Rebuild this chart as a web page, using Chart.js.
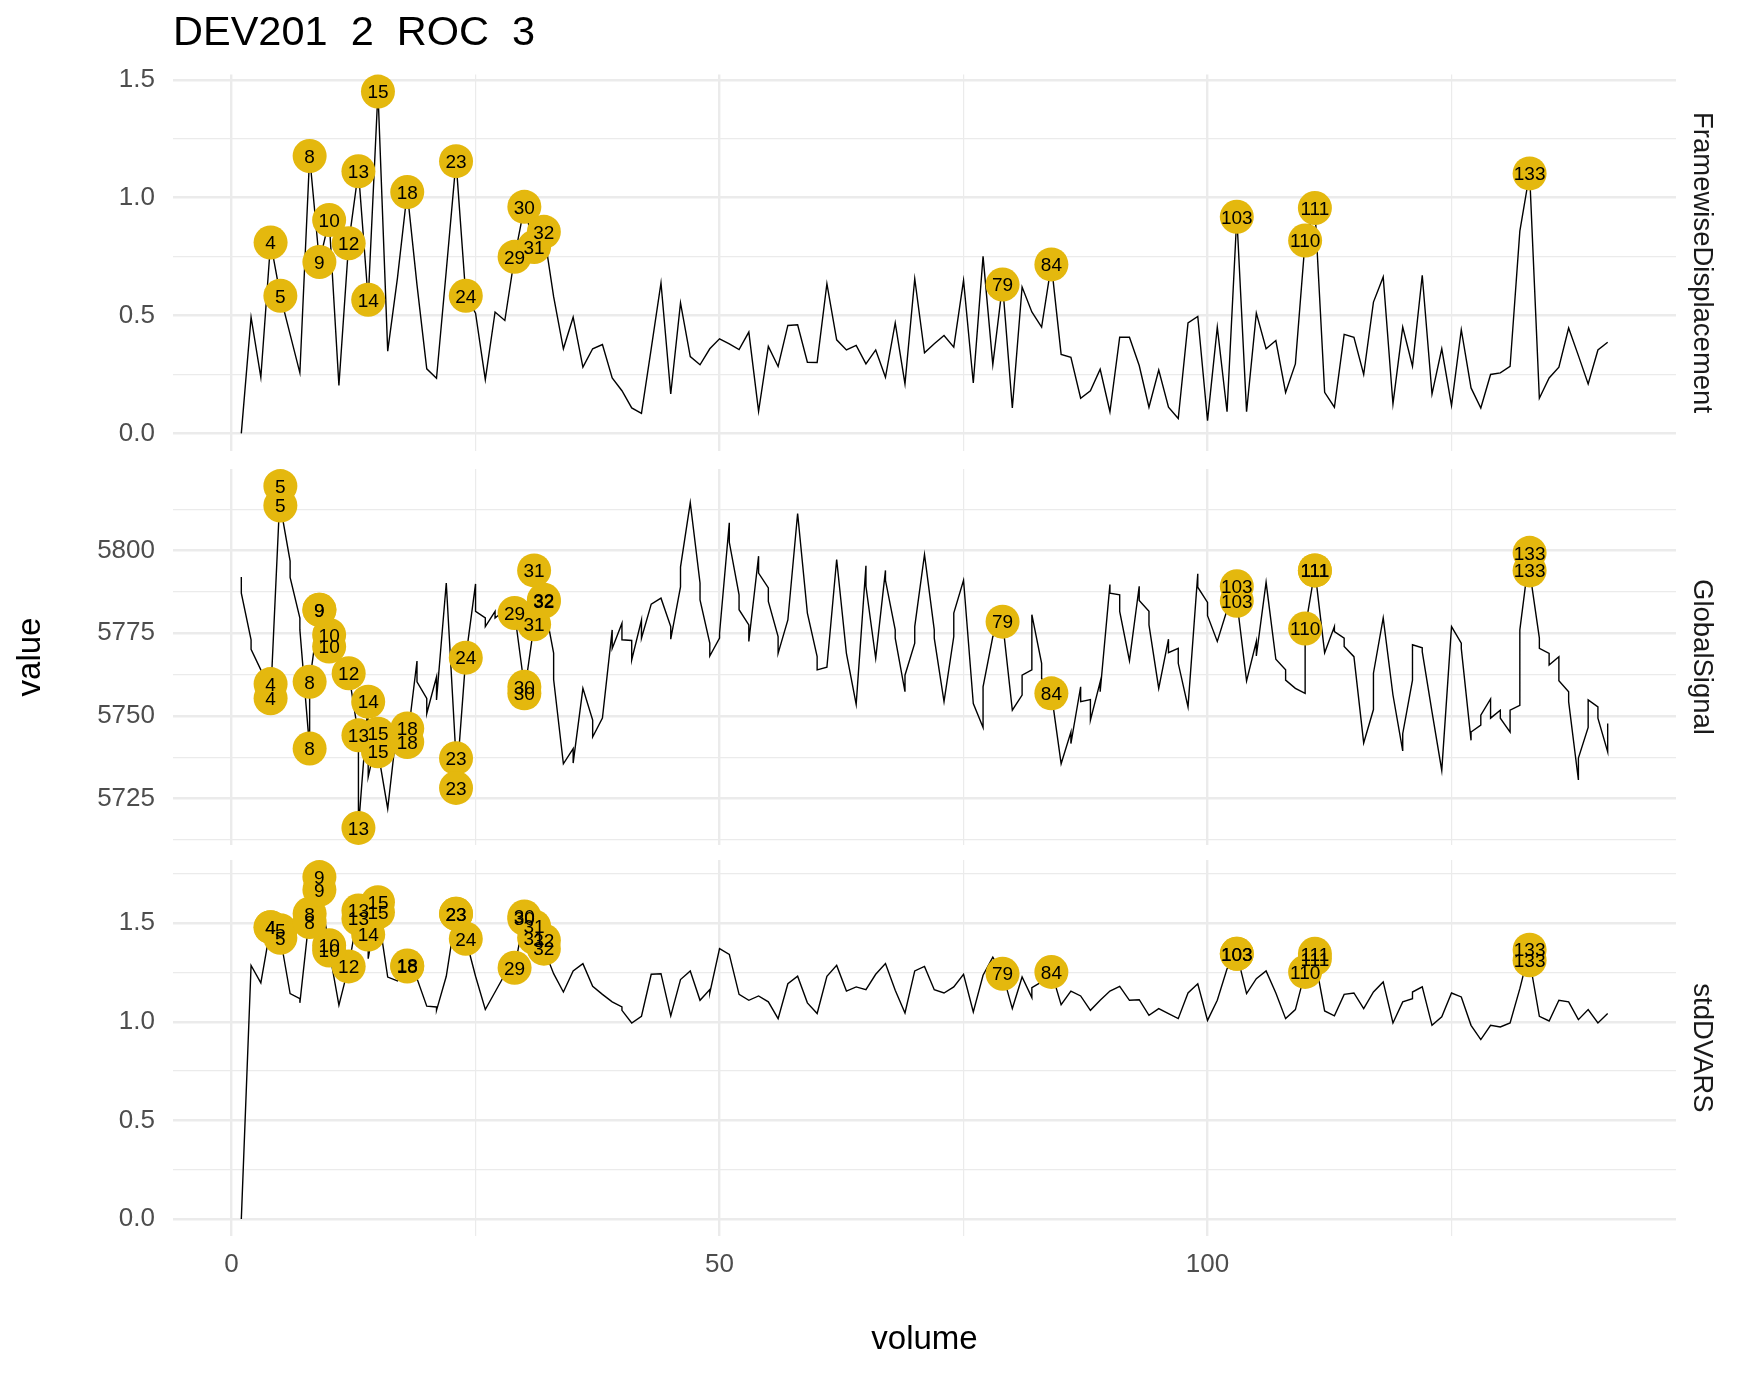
<!DOCTYPE html>
<html><head><meta charset="utf-8">
<script src="https://cdn.jsdelivr.net/npm/chart.js@4.4.1/dist/chart.umd.min.js"></script>
<style>
html,body{margin:0;padding:0;background:#fff;}
#wrap{position:relative;width:1750px;height:1375px;overflow:hidden;background:#fff;}
canvas{position:absolute;left:0;}
</style></head><body>
<div id="wrap">
<canvas id="c1" width="1750" height="460" style="top:0px"></canvas>
<canvas id="c2" width="1750" height="393" style="top:460px"></canvas>
<canvas id="c3" width="1750" height="522" style="top:853px"></canvas>
</div>
<script>
// ---------------- data ----------------
const titleText = 'DEV201  2  ROC  3';
const panelNames = ['FramewiseDisplacement', 'GlobalSignal', 'stdDVARS'];

const fd = [0.0,0.493,0.238,0.81,0.584,0.42,0.257,1.177,0.727,0.905,
0.203,0.807,1.112,0.567,1.45,0.349,0.66,1.024,0.63,0.274,
0.234,0.69,1.155,0.584,0.51,0.228,0.515,0.479,0.749,0.961,
0.791,0.855,0.58,0.359,0.493,0.281,0.359,0.377,0.235,0.181,
0.108,0.085,0.36,0.638,0.167,0.554,0.326,0.291,0.359,0.401,
0.38,0.356,0.43,0.094,0.369,0.284,0.458,0.461,0.302,0.301,
0.635,0.397,0.354,0.373,0.295,0.354,0.238,0.469,0.21,0.656,
0.342,0.38,0.415,0.366,0.649,0.214,0.751,0.292,0.632,0.108,
0.621,0.515,0.451,0.717,0.335,0.323,0.149,0.181,0.272,0.092,
0.408,0.408,0.288,0.111,0.269,0.111,0.063,0.469,0.496,0.054,
0.451,0.092,0.919,0.092,0.51,0.359,0.394,0.174,0.295,0.818,
0.956,0.174,0.111,0.42,0.408,0.25,0.557,0.664,0.125,0.451,
0.285,0.671,0.167,0.359,0.118,0.44,0.193,0.108,0.25,0.257,
0.284,0.858,1.103,0.149,0.235,0.281,0.447,0.33,0.21,0.354,
0.387];

const gsA = [5792.0,5773.0,5763.9,5759.6,5819.5,5796.8,5779.6,5740.1,5782.1,5774.5,
5767.0,5762.9,5744.1,5754.3,5744.6,5721.9,5748.0,5746.2,5766.6,5755.3,
5761.8,5790.2,5737.2,5767.6,5789.9,5779.6,5781.6,5782.0,5781.1,5758.8,
5777.7,5785.1,5769.0,5735.5,5740.1,5758.3,5748.7,5749.3,5776.0,5778.0,
5772.8,5779.0,5783.8,5785.6,5777.0,5789.0,5814.5,5790.2,5772.0,5773.5,
5808.4,5786.6,5777.5,5798.3,5788.7,5774.0,5779.0,5811.2,5781.1,5767.9,
5764.7,5797.3,5768.9,5753.5,5795.4,5767.4,5794.0,5776.0,5757.3,5772.0,
5798.8,5776.0,5754.3,5774.0,5791.0,5753.7,5746.5,5774.0,5778.5,5751.7,
5756.3,5763.9,5765.9,5756.8,5735.5,5745.1,5758.8,5754.9,5760.3,5789.7,
5786.6,5766.7,5789.2,5781.6,5758.3,5773.2,5770.4,5752.7,5793.0,5784.3,
5772.5,5782.0,5789.2,5760.6,5772.5,5790.4,5767.1,5763.9,5758.3,5756.8,
5794.0,5769.1,5777.0,5773.5,5767.9,5741.8,5751.9,5779.6,5756.3,5739.4,
5760.8,5770.6,5751.2,5733.5,5777.0,5772.0,5742.6,5747.2,5755.1,5751.7,
5745.1,5753.2,5799.3,5773.5,5768.9,5767.9,5757.3,5730.6,5746.5,5752.7,
5739.1];

const gsB = [5787.1,5770.1,5763.9,5755.3,5813.6,5791.9,5776.0,5760.3,5782.1,5771.0,
5767.0,5762.9,5716.1,5731.5,5739.3,5721.9,5748.0,5742.1,5760.3,5750.7,
5754.8,5790.2,5728.2,5767.6,5781.6,5777.0,5779.6,5782.0,5781.1,5756.8,
5794.0,5784.6,5761.0,5735.5,5735.7,5758.3,5743.6,5749.3,5770.4,5773.0,
5766.9,5773.5,5783.8,5785.6,5773.2,5795.0,5814.5,5785.1,5768.1,5775.0,
5802.5,5782.1,5772.5,5793.2,5784.6,5768.9,5779.0,5811.2,5781.1,5763.9,
5764.7,5797.3,5768.9,5753.5,5789.2,5767.4,5791.0,5773.5,5762.3,5777.0,
5798.8,5773.5,5754.3,5781.1,5791.0,5753.7,5758.8,5774.0,5778.5,5751.7,
5762.3,5780.6,5761.3,5756.8,5735.5,5741.6,5754.3,5748.7,5757.3,5787.1,
5781.6,5766.7,5784.9,5777.5,5758.3,5769.1,5765.9,5752.7,5788.9,5780.3,
5772.5,5782.0,5784.8,5760.6,5768.1,5790.4,5767.1,5760.8,5758.3,5776.4,
5794.0,5769.1,5775.5,5771.0,5767.9,5741.8,5762.9,5779.6,5756.3,5744.6,
5771.5,5769.4,5751.2,5733.5,5777.0,5770.4,5745.1,5750.2,5749.3,5749.3,
5751.7,5776.0,5794.0,5770.4,5765.4,5760.6,5754.3,5737.2,5754.8,5749.3,
5747.7];

const dvA = [0.0,1.286,1.197,1.48,1.464,1.143,1.117,1.548,1.734,1.388,
1.084,1.281,1.565,1.443,1.607,1.227,1.207,1.286,1.219,1.079,
1.075,1.231,1.548,1.421,1.231,1.062,1.151,1.24,1.274,1.534,
1.484,1.413,1.244,1.151,1.258,1.295,1.18,1.139,1.101,1.075,
0.994,1.028,1.241,1.244,1.03,1.214,1.258,1.109,1.163,1.371,
1.342,1.139,1.109,1.131,1.101,1.016,1.193,1.231,1.096,1.042,
1.231,1.286,1.156,1.177,1.163,1.241,1.295,1.16,1.045,1.258,
1.281,1.163,1.146,1.177,1.241,1.05,1.236,1.328,1.244,1.067,
1.227,1.123,1.202,1.253,1.087,1.156,1.131,1.058,1.109,1.156,
1.18,1.109,1.112,1.033,1.067,1.042,1.016,1.146,1.193,1.007,
1.109,1.269,1.345,1.143,1.219,1.258,1.146,1.016,1.062,1.253,
1.345,1.055,1.03,1.139,1.146,1.067,1.151,1.202,0.994,1.101,
1.117,1.177,0.982,1.025,1.146,1.126,0.982,0.91,0.982,0.974,
0.994,1.168,1.366,1.028,1.004,1.109,1.101,1.011,1.062,0.994,
1.042];

const dvB = [0.0,1.286,1.197,1.48,1.426,1.143,1.096,1.506,1.67,1.362,
1.084,1.281,1.523,1.32,1.556,1.227,1.207,1.28,1.219,1.079,
1.058,1.231,1.548,1.421,1.231,1.062,1.151,1.24,1.274,1.523,
1.426,1.371,1.244,1.151,1.258,1.295,1.18,1.139,1.101,1.058,
0.994,1.028,1.241,1.244,1.03,1.214,1.258,1.109,1.146,1.371,
1.342,1.139,1.109,1.131,1.101,1.016,1.193,1.231,1.096,1.042,
1.231,1.286,1.156,1.177,1.163,1.241,1.295,1.16,1.045,1.258,
1.281,1.163,1.146,1.177,1.241,1.05,1.236,1.328,1.244,1.067,
1.227,1.173,1.202,1.253,1.087,1.156,1.131,1.058,1.109,1.156,
1.18,1.109,1.112,1.033,1.067,1.042,1.016,1.146,1.193,1.007,
1.109,1.269,1.345,1.143,1.219,1.258,1.146,1.016,1.062,1.253,
1.32,1.055,1.03,1.139,1.146,1.067,1.151,1.202,0.994,1.101,
1.151,1.177,0.982,1.025,1.146,1.126,0.982,0.91,0.982,0.974,
0.994,1.168,1.312,1.028,1.004,1.109,1.101,1.011,1.062,0.994,
1.042];

// flagged volumes (labelled) for each of the two rows per volume
const flagA = [4,5,8,9,10,12,13,14,15,18,23,24,29,30,31,32,79,84,103,111,133];
const flagB = [4,5,8,9,10,13,15,18,23,30,31,32,103,110,111,133];
const flagFD = [4,5,8,9,10,12,13,14,15,18,23,24,29,30,31,32,79,84,103,110,111,133];

const xTickStep = 25, xMajor = 50;

// ---------------- rendering ----------------
const FONT = "'Liberation Sans', Arial, Helvetica, sans-serif";
const YEL = '#E4B80E';
const GRID = '#EBEBEB';
const volumes = fd.map((_, i) => i + 1);

function isMult(v, m) { return Math.abs(v / m - Math.round(v / m)) < 1e-6; }
function expand(vals) {
  const mn = Math.min(...vals), mx = Math.max(...vals), r = mx - mn;
  return [mn - 0.05 * r, mx + 0.05 * r];
}

const labelPlugin = {
  id: 'ptLabels',
  afterDatasetsDraw(chart) {
    const ctx = chart.ctx;
    chart.data.datasets.forEach((ds, i) => {
      if (!ds.ptLabels) return;
      const meta = chart.getDatasetMeta(i);
      ctx.save();
      ctx.font = '19px ' + FONT;
      ctx.fillStyle = '#000';
      ctx.textAlign = 'center';
      ctx.textBaseline = 'alphabetic';
      meta.data.forEach((el, j) => ctx.fillText(String(ds.ptLabels[j]), el.x, el.y + 6.8));
      ctx.restore();
    });
  }
};

function makePanel(id, cfg) {
  const xr = expand(volumes);
  const yr = expand(cfg.yAll);
  const datasets = [
    { data: cfg.line, borderColor: '#000', borderWidth: 1.4, pointRadius: 0, pointHoverRadius: 0,
      fill: false, tension: 0, order: 2 },
    { data: cfg.pts, ptLabels: cfg.ptLabels, showLine: false, pointRadius: 17, pointHoverRadius: 17,
      pointBackgroundColor: YEL, pointBorderColor: YEL, pointBorderWidth: 0, order: 1, clip: false }
  ];
  const tickFont = { family: FONT, size: 26 };
  return new Chart(document.getElementById(id), {
    type: 'line',
    data: { datasets },
    plugins: [labelPlugin],
    options: {
      responsive: false, animation: false, devicePixelRatio: 1,
      events: [],
      layout: { autoPadding: false, padding: { top: cfg.padTop, bottom: cfg.padBottom, left: 0, right: 0 } },
      plugins: {
        legend: { display: false }, tooltip: { enabled: false },
        title: cfg.title ? { display: true, text: cfg.title, align: 'start', fullSize: false, color: '#000',
          font: { family: FONT, size: 41.5, weight: 'normal' }, padding: { top: 8.5, bottom: 16.2 } } : { display: false }
      },
      scales: {
        x: {
          type: 'linear', min: xr[0], max: xr[1],
          border: { display: false },
          grid: { color: GRID, drawTicks: false, lineWidth: c => isMult(c.tick.value, xMajor) ? 2.4 : 1.2 },
          ticks: { display: cfg.showX, stepSize: xTickStep, includeBounds: false, autoSkip: false, maxRotation: 0,
            padding: 13, color: '#4D4D4D', font: tickFont,
            callback: v => isMult(v, xMajor) ? String(Math.round(v)) : '' },
          title: { display: cfg.showX, text: 'volume', color: '#000', font: { family: FONT, size: 33 },
            padding: { top: 0, bottom: 15 } },
          afterFit: s => { s.height = cfg.showX ? 139 : 0; s.paddingLeft = 0; s.paddingRight = 0; }
        },
        y: {
          type: 'linear', position: 'left', min: yr[0], max: yr[1],
          border: { display: false },
          grid: { color: GRID, drawTicks: false, lineWidth: c => isMult(c.tick.value, cfg.yMajor) ? 2.4 : 1.2 },
          ticks: { stepSize: cfg.yStep, includeBounds: false, autoSkip: false, padding: 18, color: '#4D4D4D',
            font: tickFont, callback: v => isMult(v, cfg.yMajor) ? cfg.yFmt(v) : '' },
          title: { display: !!cfg.yTitle, text: cfg.yTitle || '', color: '#000', font: { family: FONT, size: 33 },
            padding: { top: 11, bottom: 0 } },
          afterFit: s => { s.width = 173; s.paddingTop = 0; s.paddingBottom = 0; }
        },
        strip: {
          type: 'linear', axis: 'y', position: 'right', display: true,
          grid: { display: false }, border: { display: false }, ticks: { display: false },
          title: { display: true, text: cfg.strip, color: '#1A1A1A', font: { family: FONT, size: 27.5 },
            padding: { top: 31.5, bottom: 0 } },
          afterFit: s => { s.width = 74; s.paddingTop = 0; s.paddingBottom = 0; }
        }
      }
    }
  });
}

function pairLine(a, b) {
  const out = [];
  volumes.forEach((v, i) => { out.push({ x: v, y: a[i] }); out.push({ x: v, y: b[i] }); });
  return out;
}
function flagPts(flags, arr) { return flags.map(v => ({ x: v, y: arr[v - 1] })); }

makePanel('c1', {
  line: volumes.map((v, i) => ({ x: v, y: fd[i] })),
  pts: flagPts(flagFD, fd), ptLabels: flagFD,
  yAll: fd, yStep: 0.25, yMajor: 0.5, yFmt: v => v.toFixed(1),
  strip: panelNames[0], title: titleText, padTop: 0, padBottom: 9.5, showX: false
});
makePanel('c2', {
  line: pairLine(gsA, gsB),
  pts: flagPts(flagA, gsA).concat(flagPts(flagB, gsB)), ptLabels: flagA.concat(flagB),
  yAll: gsA.concat(gsB), yStep: 12.5, yMajor: 25, yFmt: v => String(Math.round(v)),
  strip: panelNames[1], yTitle: 'value', padTop: 9, padBottom: 8, showX: false
});
makePanel('c3', {
  line: pairLine(dvA, dvB),
  pts: flagPts(flagA, dvA).concat(flagPts(flagB, dvB)), ptLabels: flagA.concat(flagB),
  yAll: dvA.concat(dvB), yStep: 0.25, yMajor: 0.5, yFmt: v => v.toFixed(1),
  strip: panelNames[2], padTop: 7, padBottom: 0, showX: true
});
</script>
</body></html>
